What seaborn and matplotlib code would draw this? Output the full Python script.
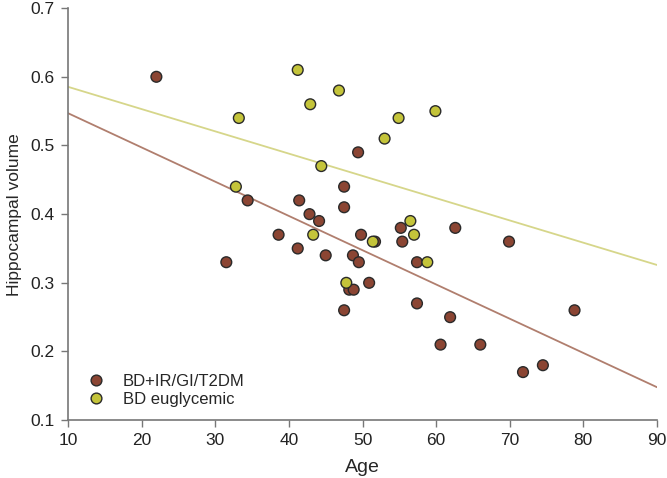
import pandas as pd
import matplotlib.pyplot as plt
import seaborn as sns

# Hippocampal volume vs age
ir_age = [22.0, 31.5, 34.4, 38.6, 41.2, 41.4, 42.8, 44.1, 45.0, 47.5, 47.5, 47.5,
          48.2, 48.8, 48.7, 49.4, 49.5, 49.8, 50.9, 51.7, 55.2, 55.4, 57.4, 57.4,
          60.6, 61.9, 62.6, 66.0, 69.9, 71.8, 74.5, 78.8]
ir_vol = [0.60, 0.33, 0.42, 0.37, 0.35, 0.42, 0.40, 0.39, 0.34, 0.44, 0.41, 0.26,
          0.29, 0.29, 0.34, 0.49, 0.33, 0.37, 0.30, 0.36, 0.38, 0.36, 0.33, 0.27,
          0.21, 0.25, 0.38, 0.21, 0.36, 0.17, 0.18, 0.26]
eu_age = [32.8, 33.2, 41.2, 42.9, 43.3, 44.4, 46.8, 47.8, 51.4, 53.0, 54.9, 56.5,
          57.0, 58.8, 59.9]
eu_vol = [0.44, 0.54, 0.61, 0.56, 0.37, 0.47, 0.58, 0.30, 0.36, 0.51, 0.54, 0.39,
          0.37, 0.33, 0.55]

groups = ['BD+IR/GI/T2DM', 'BD euglycemic']
fill_colors = {'BD+IR/GI/T2DM': '#8b4533', 'BD euglycemic': '#c4c43a'}
line_colors = {'BD+IR/GI/T2DM': '#b07e6e', 'BD euglycemic': '#d6d68a'}

df = pd.DataFrame({
    'Age': ir_age + eu_age,
    'Hippocampal volume': ir_vol + eu_vol,
    'group': [groups[0]] * len(ir_age) + [groups[1]] * len(eu_age),
})

sns.set_style('ticks')
plt.rcParams['font.family'] = ['Liberation Sans', 'DejaVu Sans']

fig = plt.figure(figsize=(6.67, 4.78), dpi=100)
ax = fig.add_axes([0.102, 0.121, 0.883, 0.862])
ax.set_xlim(10, 90)
ax.set_ylim(0.1, 0.7)

# fitted lines first so the dots sit on top
for g in groups:
    sub = df[df['group'] == g]
    sns.regplot(data=sub, x='Age', y='Hippocampal volume', ax=ax, scatter=False,
                ci=None, truncate=False, color=line_colors[g],
                line_kws={'linewidth': 1.3, 'zorder': 1})

sns.scatterplot(data=df, x='Age', y='Hippocampal volume', hue='group',
                hue_order=groups, palette=fill_colors, s=60,
                edgecolor='#2a2a2a', linewidth=1.0, ax=ax, zorder=3)

ax.set_xlim(10, 90)
ax.set_ylim(0.1, 0.7)
ax.set_xticks(range(10, 91, 10))
ax.set_yticks([0.1, 0.2, 0.3, 0.4, 0.5, 0.6, 0.7])
ax.set_yticklabels(['0.1', '0.2', '0.3', '0.4', '0.5', '0.6', '0.7'])
ax.set_xlabel('Age', fontsize=14, labelpad=8)
ax.set_ylabel('Hippocampal volume', fontsize=12.5, labelpad=6)
ax.tick_params(labelsize=12.5, labelcolor='#222222', length=5, width=1,
               color='#777777', direction='out', pad=4.5)
sns.despine(ax=ax)
for s in ['left', 'bottom']:
    ax.spines[s].set_color('#777777')
    ax.spines[s].set_linewidth(1.2)

leg = ax.legend(loc='lower left', bbox_to_anchor=(-0.006, -0.005), frameon=False,
                fontsize=12, handletextpad=0.6, labelspacing=0.2, title=None)
for h in leg.legend_handles:
    h.set_markeredgecolor('#2a2a2a')

fig.savefig('out.png', dpi=100)
